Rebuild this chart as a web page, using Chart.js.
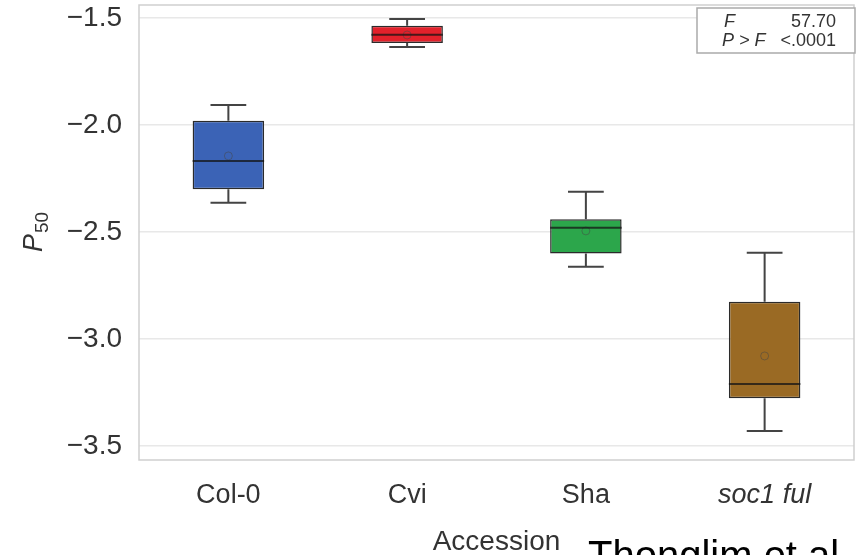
<!DOCTYPE html>
<html>
<head>
<meta charset="utf-8">
<script src="https://cdn.jsdelivr.net/npm/chart.js@4.4.1/dist/chart.umd.min.js"></script>
<style>
  html, body { margin: 0; padding: 0; background: #fff; overflow: hidden; }
  #wrap { width: 859px; height: 555px; position: relative; }
</style>
</head>
<body>
<div id="wrap"><canvas id="boxChart" width="859" height="555"></canvas></div>
<script>
// Data (P50 per aksesi)
const categories = ['Col-0', 'Cvi', 'Sha', 'soc1 ful'];
const whiskerHigh = [-1.907, -1.505, -2.312, -2.597];
const q3 = [-1.981, -1.537, -2.441, -2.826];
const medians = [-2.168, -1.579, -2.480, -3.210];
const means = [-2.145, -1.580, -2.495, -3.079];
const q1 = [-2.300, -1.617, -2.600, -3.277];
const whiskerLow = [-2.364, -1.636, -2.662, -3.430];
const yTicks = [-1.5, -2.0, -2.5, -3.0, -3.5];
const boxColors = ['#3b63b6', '#e2212b', '#2ca64b', '#9a6a24'];
const fValue = '57.70';
const pValue = '<.0001';

const FONT = '"Liberation Sans", Arial, Helvetica, sans-serif';

function fmtTick(v) {
    return (v < 0 ? '\u2212' : '') + Math.abs(v).toFixed(1);
}

// Plugin: bingkai plot, kumis, median, judul sumbu, kotak statistik
const boxExtras = {
    id: 'boxExtras',
    beforeDatasetsDraw(chart) {
        const { ctx, chartArea } = chart;
        ctx.save();
        ctx.strokeStyle = '#cfcfcf';
        ctx.lineWidth = 1.5;
        ctx.strokeRect(chartArea.left, chartArea.top, chartArea.right - chartArea.left, chartArea.bottom - chartArea.top);
        ctx.restore();
    },
    afterDatasetsDraw(chart) {
        const { ctx } = chart;
        const x = chart.scales.x;
        const y = chart.scales.y;
        const step = x.getPixelForValue(1) - x.getPixelForValue(0);
        ctx.save();
        categories.forEach((c, i) => {
            const cx = x.getPixelForValue(i);
            const half = step * 0.4 / 2;
            const cap = step * 0.2 / 2;
            ctx.strokeStyle = '#444';
            ctx.lineWidth = 2;
            ctx.beginPath();
            ctx.moveTo(cx, y.getPixelForValue(q3[i]));
            ctx.lineTo(cx, y.getPixelForValue(whiskerHigh[i]));
            ctx.moveTo(cx - cap, y.getPixelForValue(whiskerHigh[i]));
            ctx.lineTo(cx + cap, y.getPixelForValue(whiskerHigh[i]));
            ctx.moveTo(cx, y.getPixelForValue(q1[i]));
            ctx.lineTo(cx, y.getPixelForValue(whiskerLow[i]));
            ctx.moveTo(cx - cap, y.getPixelForValue(whiskerLow[i]));
            ctx.lineTo(cx + cap, y.getPixelForValue(whiskerLow[i]));
            ctx.stroke();
            // garis median
            ctx.strokeStyle = 'rgba(20,20,20,0.75)';
            ctx.lineWidth = 2;
            ctx.beginPath();
            ctx.moveTo(cx - half, y.getPixelForValue(medians[i]));
            ctx.lineTo(cx + half, y.getPixelForValue(medians[i]));
            ctx.stroke();
        });
        ctx.restore();
    },
    afterDraw(chart) {
        const { ctx, chartArea } = chart;
        ctx.save();
        // judul sumbu Y: P50
        const cy = (chartArea.top + chartArea.bottom) / 2;
        ctx.translate(33, cy);
        ctx.rotate(-Math.PI / 2);
        ctx.fillStyle = '#333';
        ctx.textBaseline = 'alphabetic';
        ctx.font = 'italic 27px ' + FONT;
        const wP = ctx.measureText('P').width;
        ctx.font = '19px ' + FONT;
        const w50 = ctx.measureText('50').width;
        const start = -(wP + w50) / 2;
        ctx.font = 'italic 27px ' + FONT;
        ctx.fillText('P', start, 9);
        ctx.font = '19px ' + FONT;
        ctx.fillText('50', start + wP + 1, 15);
        ctx.restore();

        // judul sumbu X
        ctx.save();
        ctx.fillStyle = '#333';
        ctx.font = '28px ' + FONT;
        ctx.textAlign = 'center';
        ctx.textBaseline = 'alphabetic';
        ctx.fillText('Accession', (chartArea.left + chartArea.right) / 2, 550);

        // keterangan sumber
        ctx.fillStyle = '#000';
        ctx.font = '40px ' + FONT;
        ctx.textAlign = 'left';
        ctx.fillText('Thonglim et al.', 588, 569);
        ctx.restore();

        // kotak statistik F
        ctx.save();
        const bx = 697, by = 8, bw = 158, bh = 45;
        ctx.fillStyle = '#fff';
        ctx.fillRect(bx, by, bw, bh);
        ctx.strokeStyle = '#aaa';
        ctx.lineWidth = 1.5;
        ctx.strokeRect(bx, by, bw, bh);
        ctx.fillStyle = '#333';
        ctx.textBaseline = 'alphabetic';
        ctx.font = 'italic 18px ' + FONT;
        ctx.textAlign = 'left';
        ctx.fillText('F', 724, 27);
        ctx.fillText('P > F', 722, 46);
        ctx.font = '18px ' + FONT;
        ctx.textAlign = 'right';
        ctx.fillText(fValue, 836, 27);
        ctx.fillText(pValue, 836, 46);
        ctx.restore();
    }
};

const ctxBox = document.getElementById('boxChart').getContext('2d');

const boxChart = new Chart(ctxBox, {
    type: 'bar',
    data: {
        labels: categories,
        datasets: [{
            type: 'line',
            label: 'Mean',
            data: means,
            showLine: false,
            pointStyle: 'circle',
            pointRadius: 4,
            pointBorderWidth: 1,
            pointBorderColor: 'rgba(70,70,70,0.5)',
            pointBackgroundColor: 'rgba(0,0,0,0)',
            order: 1
        }, {
            label: 'P50',
            data: categories.map((c, i) => [q1[i], q3[i]]),
            backgroundColor: boxColors,
            borderColor: '#2b2b2b',
            borderWidth: 1.5,
            borderSkipped: false,
            barPercentage: 0.4,
            categoryPercentage: 1.0,
            order: 2
        }]
    },
    options: {
        responsive: false,
        animation: false,
        layout: {
            padding: { top: 5, right: 1, left: 0, bottom: 0 }
        },
        scales: {
            x: {
                grid: { display: false, drawTicks: false },
                border: { display: false },
                ticks: {
                    color: '#333',
                    padding: 19,
                    maxRotation: 0,
                    autoSkip: false,
                    font: function(context) {
                        return { family: FONT, size: 27, style: context.index === 3 ? 'italic' : 'normal' };
                    }
                },
                afterFit: function(scale) {
                    scale.height = 95;
                    scale.paddingLeft = 0;
                    scale.paddingRight = 0;
                }
            },
            y: {
                min: -3.565,
                max: -1.44,
                grid: { color: '#e8e8e8', lineWidth: 1.5, drawTicks: false },
                border: { display: false },
                afterBuildTicks: function(scale) {
                    scale.ticks = yTicks.map(v => ({ value: v }));
                },
                ticks: {
                    color: '#333',
                    padding: 17,
                    font: { family: FONT, size: 28 },
                    callback: function(value) { return fmtTick(value); }
                },
                afterFit: function(scale) {
                    scale.width = 139;
                    scale.paddingTop = 0;
                    scale.paddingBottom = 0;
                }
            }
        },
        plugins: {
            legend: { display: false },
            tooltip: { enabled: false }
        }
    },
    plugins: [boxExtras]
});
</script>
</body>
</html>
